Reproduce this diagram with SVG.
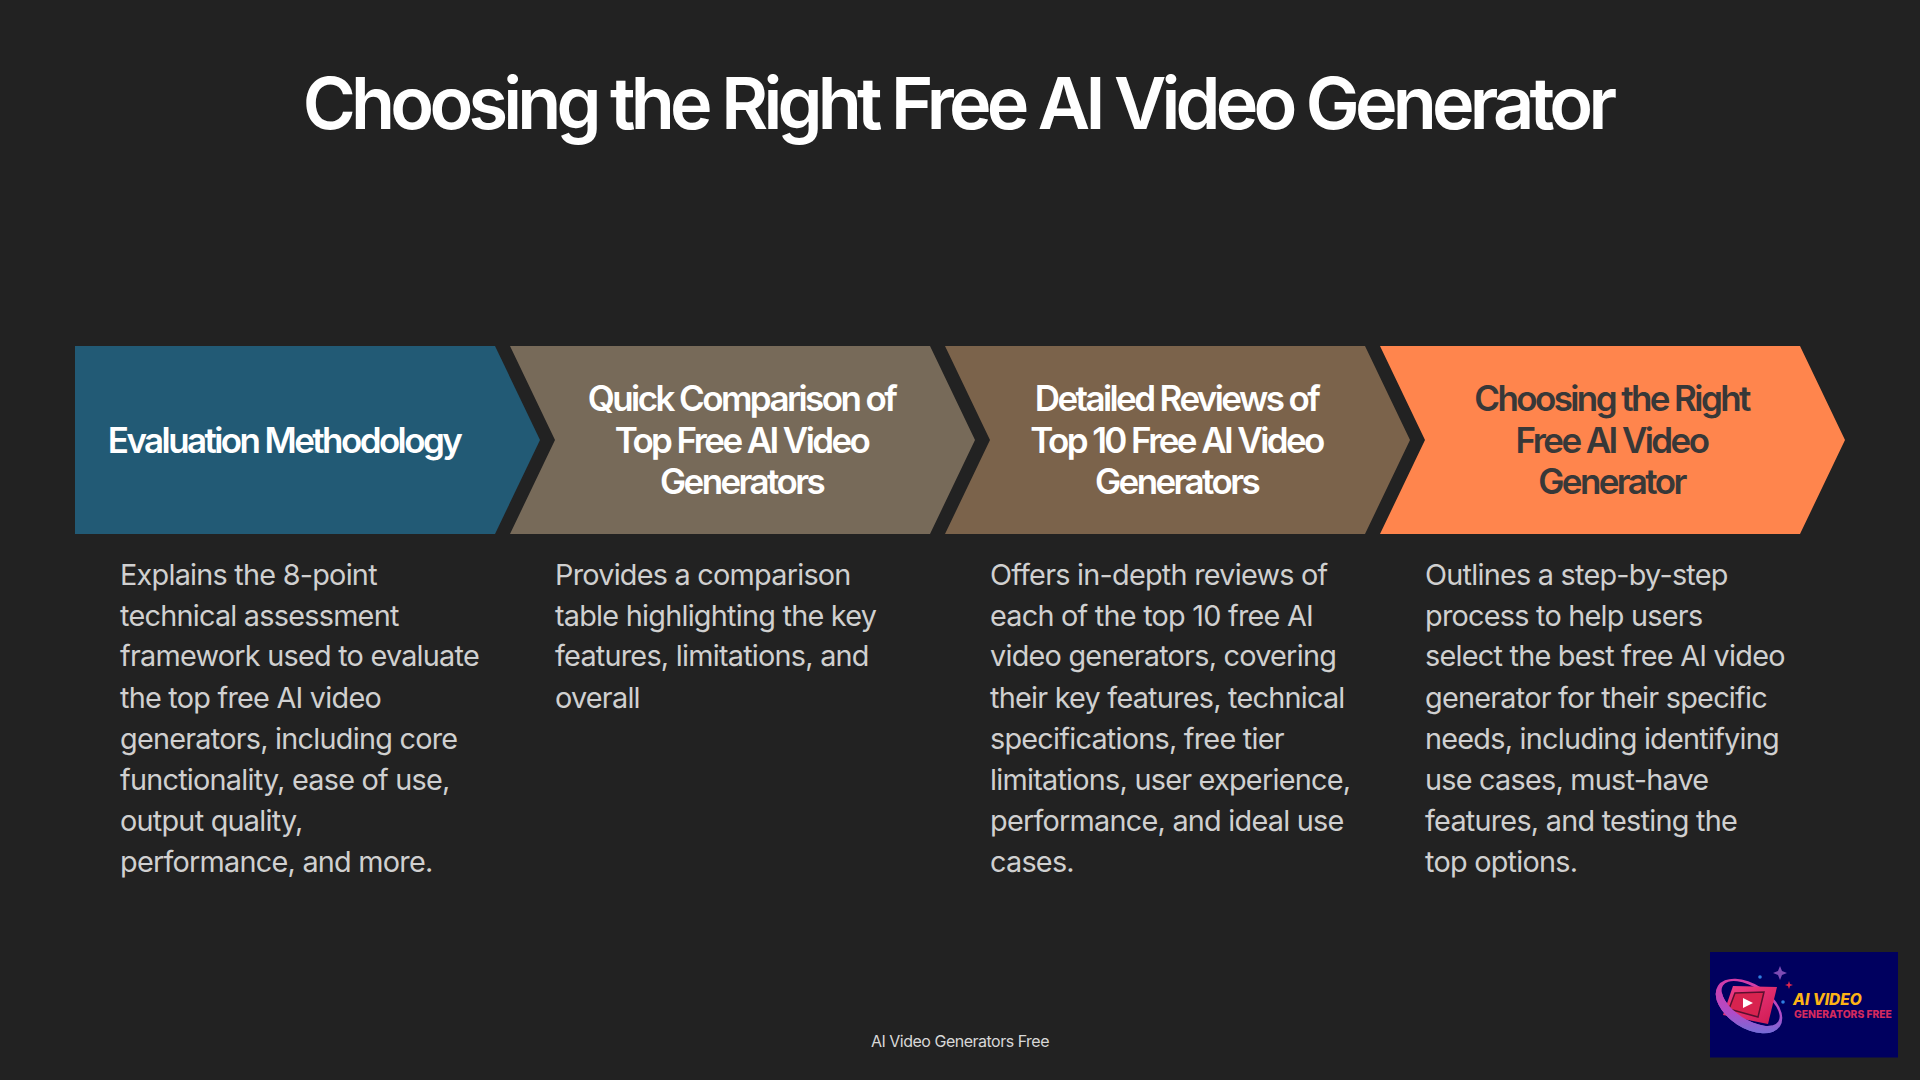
<svg xmlns="http://www.w3.org/2000/svg" width="1920" height="1080" viewBox="0 0 1920 1080">
<defs>
<linearGradient id="ring" x1="0" y1="0" x2="1" y2="1"><stop offset="0" stop-color="#e0359a"/><stop offset="0.6" stop-color="#b04cc8"/><stop offset="1" stop-color="#4f7fe0"/></linearGradient>
<linearGradient id="screen" x1="0" y1="0" x2="1" y2="1"><stop offset="0" stop-color="#ef3f8a"/><stop offset="1" stop-color="#d01a50"/></linearGradient>
<clipPath id="lower"><rect x="-50" y="4" width="100" height="40"/></clipPath>
<path id="ringShape" fill-rule="evenodd" d="M-37 0a37 22 0 1 0 74 0a37 22 0 1 0 -74 0zM-33 -3a33 16 0 1 0 66 0a33 16 0 1 0 -66 0z"/>
</defs>
<style>
text{font-family:Inter,"Liberation Sans",sans-serif}
.title{font-size:72px;font-weight:600;fill:#fff;text-anchor:middle;letter-spacing:-4.8px}
.head{font-size:35px;font-weight:600;text-anchor:middle;letter-spacing:-2.6px;fill:#fff}
.dark{fill:#383838}
.body{font-size:28.8px;fill:#d0d0d0;letter-spacing:-0.75px}
.foot{font-size:16px;fill:#d8d8d8;text-anchor:middle;letter-spacing:-0.5px}
</style>
<rect width="1920" height="1080" fill="#222222"/>
<text class="title" x="957.500" y="129">Choosing the Right Free AI Video Generator</text>
<g id="step1">
<polygon points="75,346 495,346 540,440 495,534 75,534" fill="#225a75"/>
<text class="head" x="284" y="452.500">Evaluation Methodology</text>
<text class="body"><tspan x="120" y="584.500">Explains the 8-point</tspan><tspan x="120" y="625.500">technical assessment</tspan><tspan x="120" y="666">framework used to evaluate</tspan><tspan x="120" y="707.500">the top free AI video</tspan><tspan x="120" y="749">generators, including core</tspan><tspan x="120" y="790">functionality, ease of use,</tspan><tspan x="120" y="831">output quality,</tspan><tspan x="120" y="872">performance, and more.</tspan></text>
</g>
<g id="step2">
<polygon points="510,346 930,346 975,440 930,534 510,534 555,440" fill="#776a59"/>
<text class="head"><tspan x="741.500" y="411">Quick Comparison of</tspan><tspan x="741.500" y="453">Top Free AI Video</tspan><tspan x="741.500" y="494">Generators</tspan></text>
<text class="body"><tspan x="555" y="584.500">Provides a comparison</tspan><tspan x="555" y="625.500">table highlighting the key</tspan><tspan x="555" y="666">features, limitations, and</tspan><tspan x="555" y="707.500">overall</tspan></text>
</g>
<g id="step3">
<polygon points="945,346 1365,346 1410,440 1365,534 945,534 990,440" fill="#7b634b"/>
<text class="head"><tspan x="1176.500" y="411">Detailed Reviews of</tspan><tspan x="1176.500" y="453">Top 10 Free AI Video</tspan><tspan x="1176.500" y="494">Generators</tspan></text>
<text class="body"><tspan x="990" y="584.500">Offers in-depth reviews of</tspan><tspan x="990" y="625.500">each of the top 10 free AI</tspan><tspan x="990" y="666">video generators, covering</tspan><tspan x="990" y="707.500">their key features, technical</tspan><tspan x="990" y="749">specifications, free tier</tspan><tspan x="990" y="790">limitations, user experience,</tspan><tspan x="990" y="831">performance, and ideal use</tspan><tspan x="990" y="872">cases.</tspan></text>
</g>
<g id="step4">
<polygon points="1380,346 1800,346 1845,440 1800,534 1380,534 1425,440" fill="#ff854d"/>
<text class="head dark"><tspan x="1611.500" y="411">Choosing the Right</tspan><tspan x="1611.500" y="453">Free AI Video</tspan><tspan x="1611.500" y="494">Generator</tspan></text>
<text class="body"><tspan x="1425" y="584.500">Outlines a step-by-step</tspan><tspan x="1425" y="625.500">process to help users</tspan><tspan x="1425" y="666">select the best free AI video</tspan><tspan x="1425" y="707.500">generator for their specific</tspan><tspan x="1425" y="749">needs, including identifying</tspan><tspan x="1425" y="790">use cases, must-have</tspan><tspan x="1425" y="831">features, and testing the</tspan><tspan x="1425" y="872">top options.</tspan></text>
</g>
<text class="foot" x="960" y="1047">AI Video Generators Free</text>
<g id="logo">
<rect x="1710" y="952" width="188" height="105.500" fill="#00005f"/>
<use href="#ringShape" transform="translate(1749 1006) rotate(33)" fill="url(#ring)"/>
<polygon points="1733,986 1777,987 1768,1024 1723,1015" fill="url(#screen)"/>
<polygon points="1735,993 1764,992 1758,1017 1729,1009" fill="#d8234f" stroke="#5a1030" stroke-width="1.500"/>
<polygon points="1743,998 1753,1003 1743,1008" fill="#fff"/>
<g transform="translate(1749 1006) rotate(33)"><use href="#ringShape" fill="url(#ring)" clip-path="url(#lower)"/></g>
<path d="M1780 966 l2 5 l5 2 l-5 2 l-2 5 l-2 -5 l-5 -2 l5 -2z" fill="#7d4bb5"/>
<path d="M1789 981 l1 3 l3 1 l-3 1 l-1 3 l-1 -3 l-3 -1 l3 -1z" fill="#e0264f"/>
<circle cx="1760" cy="977" r="1.800" fill="#2f7fe0"/>
<circle cx="1783" cy="1002" r="1.800" fill="#2f7fe0"/>
<text x="1793" y="1005" font-size="15.500" font-weight="800" font-style="italic" fill="#fcb316">AI VIDEO</text>
<text x="1794" y="1018" font-size="10.300" font-weight="800" fill="#d42a5e">GENERATORS FREE</text>
</g>
</svg>
